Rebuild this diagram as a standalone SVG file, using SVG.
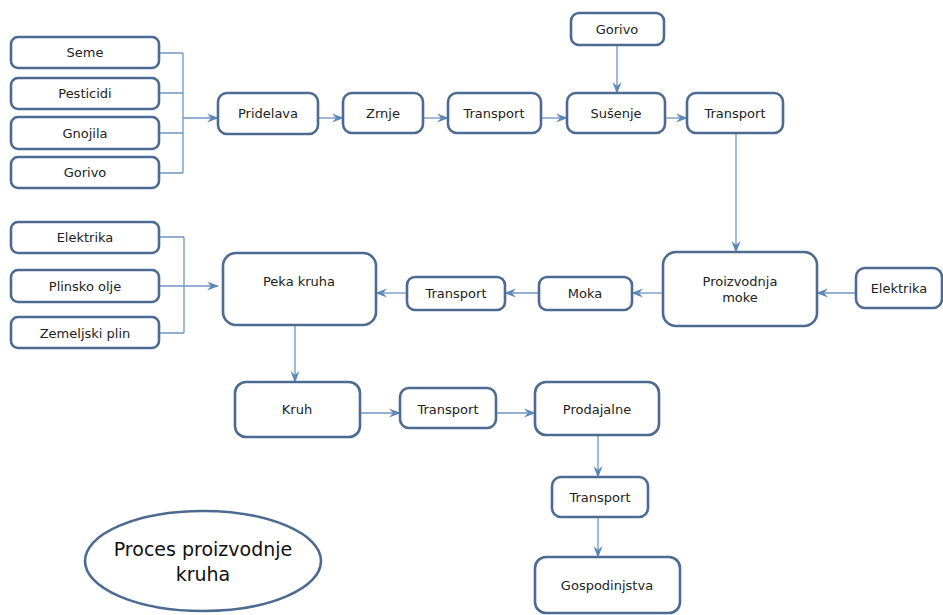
<svg xmlns="http://www.w3.org/2000/svg" width="943" height="615" viewBox="0 0 943 615">
<defs>
<style>
.b{fill:#fff;stroke:#4d6b91;stroke-width:2.6}
.t{font-family:"DejaVu Sans",sans-serif;font-size:13px;fill:#222;text-anchor:middle}
.c{fill:none;stroke:#6f95c2;stroke-width:1.3}
.a{fill:none;stroke:#6f95c2;stroke-width:1.3;marker-end:url(#ar)}
</style>
<marker id="ar" viewBox="0 0 12 10" refX="11" refY="5" markerWidth="12" markerHeight="10" markerUnits="userSpaceOnUse" orient="auto">
<path d="M0,0.5 L12,5 L0,9.5 L4,5 z" fill="#5f88b8"/>
</marker>
</defs>
<rect width="943" height="615" fill="#fff"/>
<g id="connectors">
<path class="c" d="M159,53 H183 M159,93 H183 M159,133 H183 M159,173 H183 M183,53 V173"/>
<path class="a" d="M183,118 H218"/>
<path class="a" d="M318,118 H343"/>
<path class="a" d="M423,118 H448"/>
<path class="a" d="M541,118 H567"/>
<path class="a" d="M617,45 V93"/>
<path class="a" d="M665,118 H687"/>
<path class="a" d="M736,133 V252"/>
<path class="a" d="M856,293 H817"/>
<path class="a" d="M663,293 H632"/>
<path class="a" d="M539,293 H505"/>
<path class="a" d="M407,293 H376"/>
<path class="c" d="M159,237 H184 M159,333 H184 M184,237 V333"/>
<path class="a" d="M159,286 H218"/>
<path class="a" d="M295,325 V382"/>
<path class="a" d="M360,413 H400"/>
<path class="a" d="M496,413 H535"/>
<path class="a" d="M598,435 V477"/>
<path class="a" d="M598,517 V557"/>
</g>
<g id="seme"><rect class="b" x="11" y="37" width="148" height="31" rx="7"/><text class="t" x="85" y="57">Seme</text></g>
<g id="pesticidi"><rect class="b" x="11" y="78" width="148" height="31" rx="7"/><text class="t" x="85" y="98">Pesticidi</text></g>
<g id="gnojila"><rect class="b" x="11" y="117" width="148" height="32" rx="7"/><text class="t" x="85" y="138">Gnojila</text></g>
<g id="gorivo1"><rect class="b" x="11" y="157" width="148" height="31" rx="7"/><text class="t" x="85" y="177">Gorivo</text></g>
<g id="pridelava"><rect class="b" x="218" y="93" width="100" height="41" rx="9"/><text class="t" x="268" y="118">Pridelava</text></g>
<g id="zrnje"><rect class="b" x="343" y="93" width="80" height="40" rx="9"/><text class="t" x="383" y="118">Zrnje</text></g>
<g id="transport1"><rect class="b" x="448" y="93" width="93" height="40" rx="9"/><text class="t" x="494" y="118">Transport</text></g>
<g id="gorivo2"><rect class="b" x="571" y="13" width="93" height="32" rx="8"/><text class="t" x="617" y="34">Gorivo</text></g>
<g id="susenje"><rect class="b" x="567" y="93" width="98" height="40" rx="9"/><text class="t" x="616" y="118">Sušenje</text></g>
<g id="transport2"><rect class="b" x="687" y="93" width="96" height="40" rx="9"/><text class="t" x="735" y="118">Transport</text></g>
<g id="proizvodnja"><rect class="b" x="663" y="252" width="154" height="74" rx="13"/><text class="t" x="740" y="286">Proizvodnja</text><text class="t" x="740" y="302">moke</text></g>
<g id="elektrika2"><rect class="b" x="856" y="268" width="86" height="40" rx="9"/><text class="t" x="899" y="293">Elektrika</text></g>
<g id="moka"><rect class="b" x="539" y="277" width="93" height="33" rx="8"/><text class="t" x="585" y="298">Moka</text></g>
<g id="transport3"><rect class="b" x="407" y="277" width="98" height="33" rx="8"/><text class="t" x="456" y="298">Transport</text></g>
<g id="peka"><rect class="b" x="223" y="253" width="153" height="72" rx="13"/><text class="t" x="299" y="286">Peka kruha</text></g>
<g id="elektrika1"><rect class="b" x="11" y="222" width="148" height="31" rx="7"/><text class="t" x="85" y="242">Elektrika</text></g>
<g id="plinsko"><rect class="b" x="11" y="270" width="148" height="32" rx="7"/><text class="t" x="85" y="291">Plinsko olje</text></g>
<g id="zemeljski"><rect class="b" x="11" y="317" width="148" height="31" rx="7"/><text class="t" x="85" y="338">Zemeljski plin</text></g>
<g id="kruh"><rect class="b" x="235" y="382" width="125" height="55" rx="11"/><text class="t" x="297" y="414">Kruh</text></g>
<g id="transport4"><rect class="b" x="400" y="388" width="96" height="40" rx="9"/><text class="t" x="448" y="414">Transport</text></g>
<g id="prodajalne"><rect class="b" x="535" y="382" width="124" height="53" rx="11"/><text class="t" x="597" y="414">Prodajalne</text></g>
<g id="transport5"><rect class="b" x="552" y="477" width="96" height="40" rx="9"/><text class="t" x="600" y="502">Transport</text></g>
<g id="gospodinjstva"><rect class="b" x="535" y="557" width="145" height="56" rx="11"/><text class="t" x="607" y="590">Gospodinjstva</text></g>
<g id="naslov"><ellipse cx="203" cy="561" rx="118" ry="50" fill="#fff" stroke="#4d6b91" stroke-width="2.6"/><text font-family="DejaVu Sans,sans-serif" font-size="19" fill="#111" text-anchor="middle" x="203" y="556">Proces proizvodnje</text><text font-family="DejaVu Sans,sans-serif" font-size="19" fill="#111" text-anchor="middle" x="203" y="581">kruha</text></g>
</svg>
